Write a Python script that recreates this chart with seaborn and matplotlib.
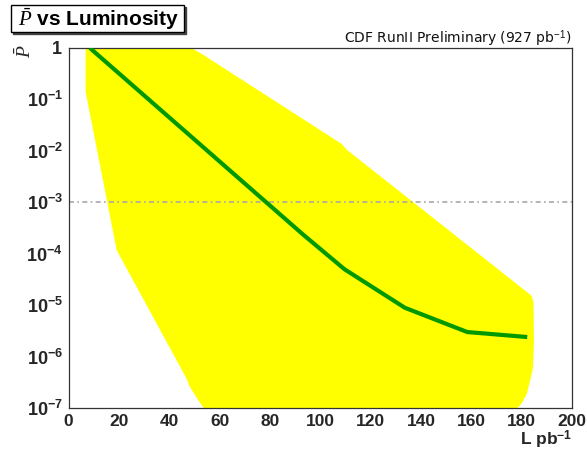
import numpy as np
import matplotlib
matplotlib.use("Agg")
import matplotlib.pyplot as plt
import matplotlib.ticker as mticker
import matplotlib.patches as mpatches
import seaborn as sns

# median expected p-value vs luminosity
lumi = [8.5, 93.0, 109.6, 133.6, 158.4, 182.2]
p_median = [1.0, 2.4e-4, 5.0e-5, 8.9e-6, 3.0e-6, 2.4e-6]

# yellow band: upper edge (left to right) and lower edge (left to right)
band_up_x = [7.5, 42.8, 47.0, 50.0, 53.0, 56.0, 108.0, 110.0, 183.4, 184.0, 184.2, 183.8, 182.5, 181.4, 179.5, 177.4]
band_up_y = [1.0, 1.0, 0.97, 0.85, 0.70, 0.56, 0.0129, 0.0100, 1.45e-5, 1.1e-5, 2.0e-6, 6.0e-7, 3.2e-7, 1.95e-7, 1.3e-7, 1.0e-7]
band_lo_x = [7.5, 7.5, 19.8, 47.6, 48.6, 52.0, 54.5]
band_lo_y = [1.0, 0.14, 1.2e-4, 3.8e-7, 2.8e-7, 1.5e-7, 1.0e-7]

p_threshold = 1e-3
xticks = [0, 20, 40, 60, 80, 100, 120, 140, 160, 180, 200]

sns.set_theme(style="white")
plt.rcParams["font.family"] = ["Liberation Sans", "DejaVu Sans"]
plt.rcParams["mathtext.fontset"] = "custom"
plt.rcParams["mathtext.bf"] = "Liberation Sans:bold"
plt.rcParams["mathtext.rm"] = "Liberation Sans"
plt.rcParams["mathtext.it"] = "Liberation Serif:italic"

fig = plt.figure(figsize=(5.87, 4.51), dpi=100)
ax = fig.add_axes([0.1167, 0.0953, 0.8578, 0.7983])

poly_x = band_up_x + band_lo_x[::-1]
poly_y = band_up_y + band_lo_y[::-1]
ax.fill(poly_x, poly_y, facecolor="#ffff00", edgecolor="#ffff00", lw=2.5,
        joinstyle="round", zorder=1)

ax.axhline(p_threshold, color="#a8a8a8", lw=1.2, dashes=(3, 2, 1, 2), zorder=2)

sns.lineplot(x=lumi, y=p_median, color="#009a00", lw=3.0, ax=ax, zorder=3,
             solid_capstyle="butt")

ax.set_yscale("log")
ax.set_xlim(0, 200)
ax.set_ylim(1e-7, 1)

ax.set_xticks(xticks)
ax.xaxis.set_minor_locator(mticker.MultipleLocator(4))
ax.set_xticklabels([str(t) for t in xticks])
ax.yaxis.set_major_locator(mticker.LogLocator(base=10, numticks=20))
ax.yaxis.set_minor_locator(mticker.LogLocator(base=10, subs=np.arange(2, 10), numticks=20))


def fmt(v, pos):
    e = int(round(np.log10(v)))
    if e == 0:
        return r"$\mathbf{1}$"
    return r"$\mathbf{10^{%d}}$" % e


ax.yaxis.set_major_formatter(mticker.FuncFormatter(fmt))
ax.yaxis.set_minor_formatter(mticker.NullFormatter())

ax.tick_params(axis="both", which="both", direction="in", top=False, right=False,
               color="#333333", width=0.8)
ax.tick_params(axis="x", which="major", length=8, labelsize=12.5, pad=4)
ax.tick_params(axis="x", which="minor", length=4)
ax.tick_params(axis="y", which="major", length=11, labelsize=13, pad=4)
ax.tick_params(axis="y", which="minor", length=6)
for lab in ax.get_xticklabels():
    lab.set_fontweight("bold")

for s in ax.spines.values():
    s.set_color("#333333")
    s.set_linewidth(0.9)

ax.set_xlabel(r"L pb$^{\mathbf{-1}}$", fontsize=12.5, fontweight="bold", loc="right")
ax.xaxis.set_label_coords(1.0, -0.058)
ax.set_ylabel(r"$\bar{P}$", fontsize=14, loc="top")
ax.yaxis.set_label_coords(-0.066, 1.01)

fig.text(0.974, 0.905, r"CDF RunII Preliminary (927 pb$^{-1}$)", ha="right",
         va="baseline", fontsize=10, family="DejaVu Sans", color="#111111")

# title box with shadow
fig.patches.append(mpatches.Rectangle((0.0222, 0.9246), 0.2947, 0.0599,
                                      transform=fig.transFigure, fc="#444444",
                                      ec="#444444", lw=1, zorder=1))
fig.patches.append(mpatches.Rectangle((0.0187, 0.929), 0.2947, 0.0599,
                                      transform=fig.transFigure, fc="white",
                                      ec="black", lw=1, zorder=2))
fig.text(0.168, 0.958, r"$\bar{P}$ vs Luminosity", ha="center", va="center",
         fontsize=15, fontweight="bold", color="black", zorder=3)

fig.savefig("out.png", dpi=100)
